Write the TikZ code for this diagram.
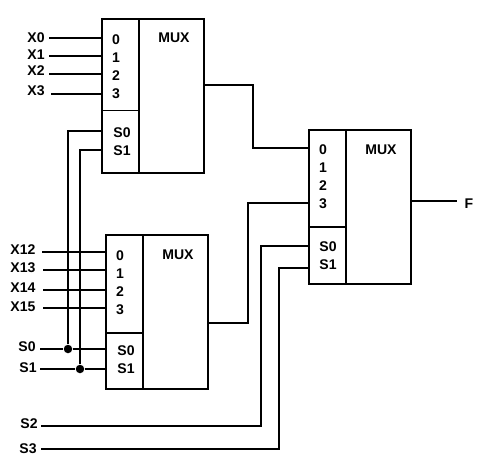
\documentclass[tikz,border=0pt]{standalone}
\usepackage{fontspec}
\setmainfont{Liberation Sans}
\usepackage{tikz}
\usetikzlibrary{positioning, calc}

\tikzset{
  wire/.style={line width=1pt, black},
  muxbox/.style={draw, line width=1pt, rectangle, outer sep=0pt, inner sep=0pt, minimum width=2.04cm, minimum height=3.08cm},
  datapart/.style={draw, line width=1pt, rectangle, outer sep=0pt, inner sep=0pt, anchor=north west, minimum width=0.74cm},
  selpart/.style={draw, line width=1pt, rectangle, outer sep=0pt, inner sep=0pt, anchor=south west, minimum width=0.74cm},
  lbl/.style={inner sep=0pt, font=\fontsize{8}{9}\selectfont\bfseries},
  junction/.style={circle, fill=black, inner sep=0pt, minimum size=0.17cm}
}

\begin{document}
\begin{tikzpicture}[x=0.02cm, y=-0.02cm]
\useasboundingbox (0,0) rectangle (481,460);

% Top mux
\node[muxbox] (muxA) at (153,96) {};
\node[datapart, minimum height=1.83cm] (dataA) at (muxA.north west) {};
\node[selpart, minimum height=1.25cm] (selA) at (muxA.south west) {};
\node[lbl] (nameA) at (174,38) {MUX};
\node[lbl] (pinA0) at (116,40) {0};
\node[lbl] (pinA1) at (116,58) {1};
\node[lbl] (pinA2) at (116,76) {2};
\node[lbl] (pinA3) at (116,94) {3};
\node[lbl] (pinAS0) at (122,133) {S0};
\node[lbl] (pinAS1) at (122,151) {S1};

% Lower mux
\node[muxbox] (muxB) at (157,312) {};
\node[datapart, minimum height=1.96cm] (dataB) at (muxB.north west) {};
\node[selpart, minimum height=1.12cm] (selB) at (muxB.south west) {};
\node[lbl] (nameB) at (178,255) {MUX};
\node[lbl] (pinB0) at (120,256) {0};
\node[lbl] (pinB1) at (120,274) {1};
\node[lbl] (pinB2) at (120,292) {2};
\node[lbl] (pinB3) at (120,310) {3};
\node[lbl] (pinBS0) at (126,351) {S0};
\node[lbl] (pinBS1) at (126,369) {S1};

% Output mux
\node[muxbox] (muxC) at (360,207) {};
\node[datapart, minimum height=1.94cm] (dataC) at (muxC.north west) {};
\node[selpart, minimum height=1.14cm] (selC) at (muxC.south west) {};
\node[lbl] (nameC) at (381,150) {MUX};
\node[lbl] (pinC0) at (323,150) {0};
\node[lbl] (pinC1) at (323,168) {1};
\node[lbl] (pinC2) at (323,186) {2};
\node[lbl] (pinC3) at (323,204) {3};
\node[lbl] (pinCS0) at (328,247) {S0};
\node[lbl] (pinCS1) at (328,265) {S1};

% Signal names
\node[lbl] (X0) at (36,38) {X0};
\node[lbl] (X1) at (36,55) {X1};
\node[lbl] (X2) at (36,71) {X2};
\node[lbl] (X3) at (36,91) {X3};
\node[lbl] (X12) at (23,250) {X12};
\node[lbl] (X13) at (23,268) {X13};
\node[lbl] (X14) at (23,288) {X14};
\node[lbl] (X15) at (23,307) {X15};
\node[lbl] (S0) at (27,347) {S0};
\node[lbl] (S1) at (28,368) {S1};
\node[lbl] (S2) at (29,424) {S2};
\node[lbl] (S3) at (28,449) {S3};
\node[lbl] (F) at (469,204) {F};

% Free wire ends
\coordinate (inX0) at (49,38);
\coordinate (inX1) at (49,56);
\coordinate (inX2) at (49,74);
\coordinate (inX3) at (51,94);
\coordinate (inX12) at (42,252);
\coordinate (inX13) at (43,270);
\coordinate (inX14) at (43,290);
\coordinate (inX15) at (43,308);
\coordinate (inS0) at (40,349);
\coordinate (inS1) at (40,369);
\coordinate (inS2) at (41,426);
\coordinate (inS3) at (41,449);
\coordinate (outF) at (457,201);
\coordinate (tapA0) at (102,131);
\coordinate (tapA1) at (102,150);
\coordinate (outA) at (204,85);
\coordinate (outB) at (208,323);
\coordinate (inC0) at (309,148);
\coordinate (inC3) at (309,203);
\coordinate (inCS0) at (309,246);
\coordinate (inCS1) at (309,268);

% Junctions
\node[junction] (jS0) at (68,349) {};
\node[junction] (jS1) at (80,369) {};

% Data inputs
\draw[wire] (inX0) -- (inX0 -| muxA.west);
\draw[wire] (inX1) -- (inX1 -| muxA.west);
\draw[wire] (inX2) -- (inX2 -| muxA.west);
\draw[wire] (inX3) -- (inX3 -| muxA.west);
\draw[wire] (inX12) -- (inX12 -| muxB.west);
\draw[wire] (inX13) -- (inX13 -| muxB.west);
\draw[wire] (inX14) -- (inX14 -| muxB.west);
\draw[wire] (inX15) -- (inX15 -| muxB.west);

% Select lines
\draw[wire] (inS0) -- (jS0) -- (jS0 -| muxB.west);
\draw[wire] (inS1) -- (jS1) -- (jS1 -| muxB.west);
\draw[wire] (jS0) |- (tapA0);
\draw[wire] (jS1) |- (tapA1);
\draw[wire] (inS2) -- ++(220,0) |- (inCS0);
\draw[wire] (inS3) -- ++(238,0) |- (inCS1);

% Outputs
\draw[wire] (outA) -- ++(49,0) |- (inC0);
\draw[wire] (outB) -- ++(40,0) |- (inC3);
\draw[wire] (outF -| muxC.east) -- (outF);
\end{tikzpicture}
\end{document}
